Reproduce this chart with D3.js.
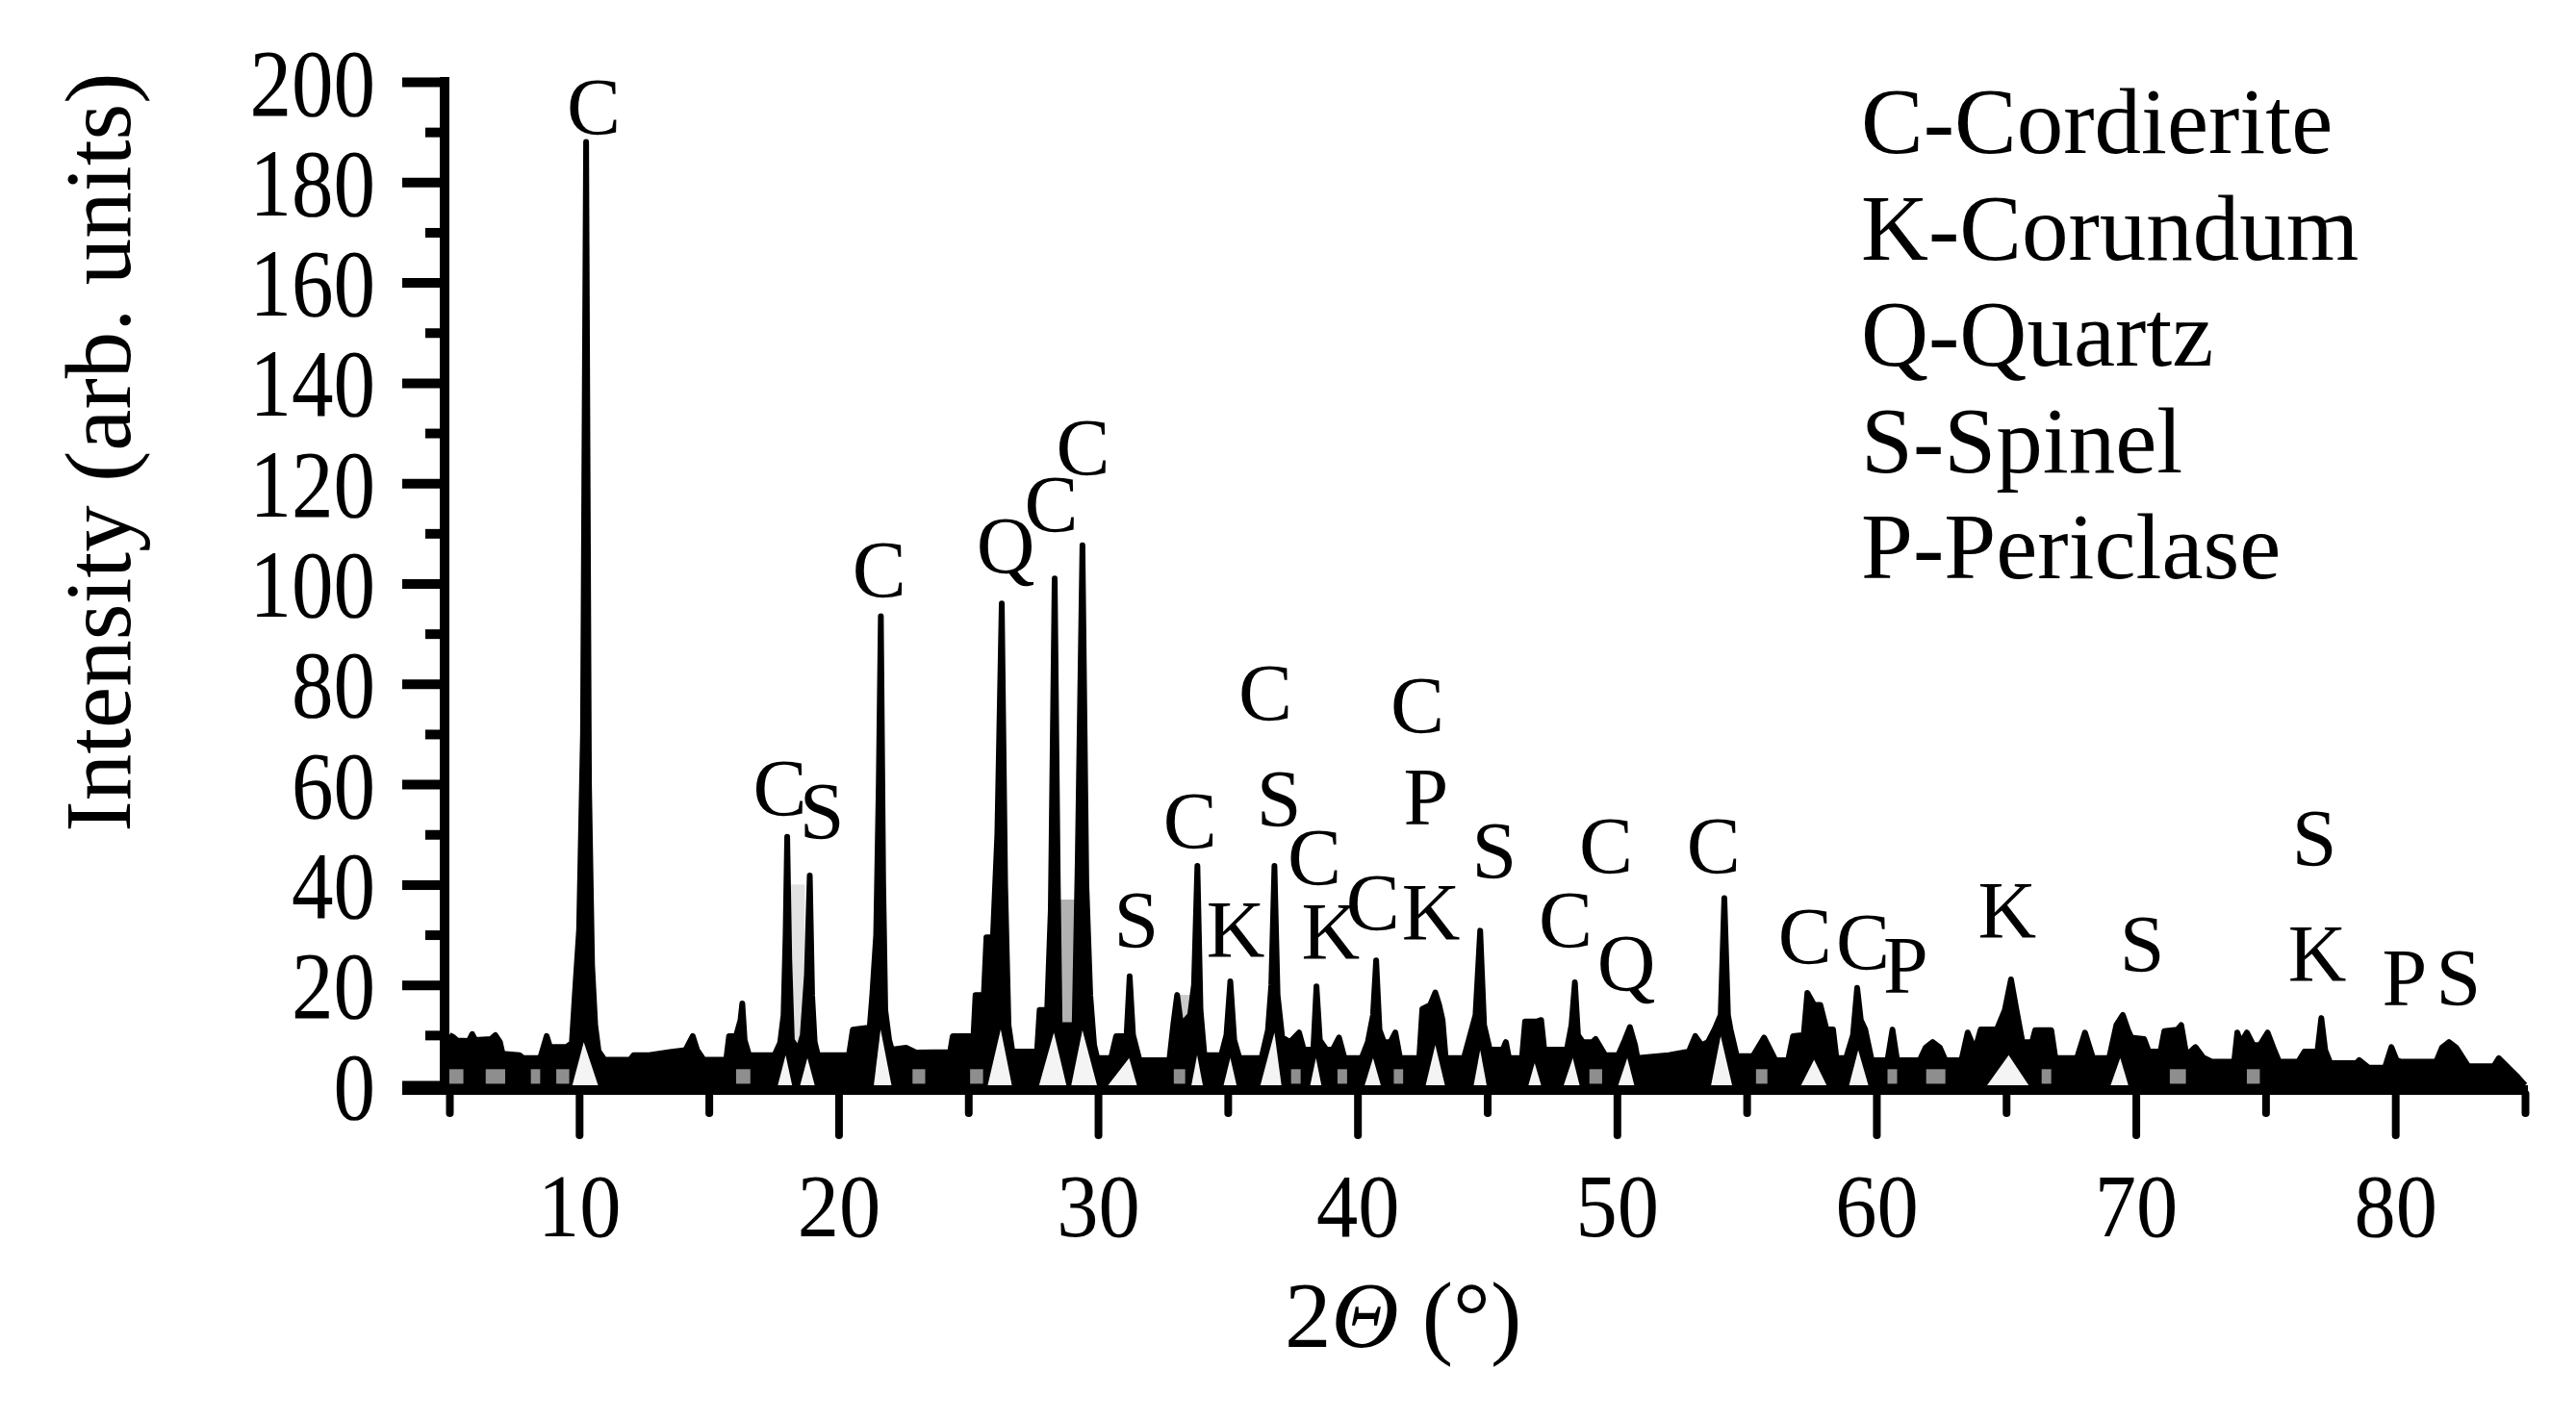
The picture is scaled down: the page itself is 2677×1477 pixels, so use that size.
<!DOCTYPE html>
<html><head><meta charset="utf-8">
<script src="https://cdn.jsdelivr.net/npm/d3@7"></script>
<style>html,body{margin:0;padding:0;background:#fff;} svg{display:block;}</style>
</head><body>
<svg id="chart" width="2677" height="1477"></svg>
<script>
// ---- data (2θ in degrees, intensity in arb. units) ----
const pattern = [
[5.0,10.0],[5.15,9.6],[5.3,8.9],[5.75,8.8],[5.88,10.2],[6.0,9.0],[6.6,9.2],[6.77,10.0],[6.95,8.6],[7.05,6.3],
[7.7,6.0],[7.85,5.4],[8.5,5.4],[8.62,7.5],[8.75,9.8],[8.88,7.6],[9.5,7.6],[9.72,8.4],[9.86,20],[10.0,31],
[10.15,70],[10.27,188],[10.38,60],[10.5,24],[10.62,12],[10.75,6.8],[10.98,5.1],[11.97,5.1],[12.1,6.0],[12.7,6.0],
[13.5,6.6],[14.1,7.0],[14.25,8.5],[14.38,9.8],[14.55,7.0],[14.8,5.1],[15.67,5.1],[15.78,9.8],[16.05,9.8],[16.22,13],
[16.29,16.3],[16.38,9],[16.55,6.0],[17.53,6.0],[17.75,8.5],[17.88,14],[17.96,30],[18.02,49.5],[18.1,25],[18.2,9],
[18.45,7.0],[18.62,10],[18.78,22],[18.89,41.8],[18.98,18],[19.08,8.6],[19.2,6.0],[20.4,6.0],[20.55,11.1],[21.2,11.5],
[21.3,18],[21.45,30],[21.55,60],[21.63,93.5],[21.72,40],[21.8,15],[21.95,9],[22.05,7.1],[22.6,7.5],[23.0,6.5],
[24.3,6.6],[24.4,9.8],[25.2,9.8],[25.28,18],[25.6,18],[25.7,29.5],[25.95,29.5],[26.12,50],[26.29,96],[26.42,40],
[26.55,12],[26.7,6.7],[27.65,6.7],[27.75,15],[28.04,15],[28.18,35],[28.33,101],[28.45,40],[28.52,12],[29.1,12],
[29.22,45],[29.4,107.6],[29.55,40],[29.7,18],[29.85,8],[29.97,5.4],[30.5,5.4],[30.7,9.8],[31.1,9.8],[31.22,21.7],
[31.35,10],[31.6,5.0],[32.75,5.0],[32.9,12],[33.05,18],[33.2,12],[33.55,14],[33.7,20],[33.83,43.7],[33.95,15],
[34.1,6.0],[34.75,6.0],[34.95,10],[35.1,20.7],[35.25,9],[35.45,5.4],[36.3,5.4],[36.55,11],[36.68,20],[36.8,43.7],
[36.92,18],[37.1,9.5],[37.4,8.6],[37.75,10.5],[37.93,7.1],[38.3,7.1],[38.42,19.7],[38.55,9],[38.8,7.1],[39.05,7.1],
[39.29,9.5],[39.5,5.4],[40.16,5.4],[40.4,8.6],[40.6,14],[40.72,24.9],[40.85,11],[41.02,8.6],[41.27,8.6],[41.46,10.5],
[41.64,5.4],[42.38,5.4],[42.5,15.2],[42.8,16],[43.0,18.5],[43.15,16],[43.28,13],[43.4,5.4],[44.1,5.4],[44.3,9.2],
[44.55,14],[44.73,30.8],[44.88,12],[45.1,7.1],[45.6,7.1],[45.72,8.6],[45.84,5.4],[46.34,5.4],[46.46,12.7],[46.9,12.7],
[47.08,13],[47.2,7.1],[48.07,7.1],[48.25,12],[48.38,20.5],[48.5,10],[48.69,8.6],[49.06,8.6],[49.18,9.2],[49.55,6.0],
[50.05,6.0],[50.3,9],[50.5,11.6],[50.7,8],[50.79,5.4],[52.0,6.0],[52.77,6.7],[53.02,9.8],[53.26,8.0],[53.51,8.6],
[53.76,11.1],[54.0,14],[54.14,37.3],[54.28,14],[54.38,11.1],[54.62,5.8],[55.24,5.8],[55.67,9.5],[56.11,5.0],[56.6,5.0],
[56.79,9.8],[57.2,10],[57.34,18.4],[57.6,16],[57.84,16.0],[58.08,11.1],[58.33,11.1],[58.46,5.4],[58.83,5.4],[59.1,10],
[59.26,19.4],[59.4,13],[59.57,11.1],[59.82,5.0],[60.43,5.0],[60.62,11.1],[60.8,5.0],[61.67,5.0],[61.9,7.5],[62.17,8.6],
[62.45,7.5],[62.66,5.0],[63.28,5.0],[63.52,10.5],[63.8,7],[64.02,11.1],[64.64,11.1],[64.95,15],[65.19,21.1],[65.4,15],
[65.63,8.6],[66.0,8.6],[66.12,11],[66.74,11],[66.9,5.4],[67.73,5.4],[68.04,10.5],[68.35,5.4],[68.97,5.4],[69.25,12],
[69.5,14],[69.7,11],[69.83,9.5],[70.32,9.2],[70.5,6.7],[70.95,6.7],[71.1,10.8],[71.6,11.1],[71.75,12],[71.95,6.0],
[72.3,7.6],[72.6,5.5],[72.92,4.7],[73.79,4.7],[73.91,10.5],[74.05,8.5],[74.28,10.5],[74.53,8.0],[74.78,8.0],[75.08,10.5],
[75.3,7.5],[75.52,4.7],[76.26,4.7],[76.5,6.7],[77.0,6.7],[77.15,13.4],[77.3,7],[77.5,4.4],[78.5,4.4],[78.61,5.0],
[78.98,3.5],[79.6,3.5],[79.85,7.6],[80.05,5.0],[80.22,4.7],[81.58,4.7],[81.8,7.5],[82.07,8.6],[82.35,7.5],[82.81,3.8],
[83.8,3.8],[83.99,5.4],[84.67,1.9],[85.0,0]
];

// light gaps under peaks: [left 2θ, apex 2θ, right 2θ, apex intensity]
const gaps = [
[9.74,10.18,10.73,8.6],[17.66,17.96,18.21,6],[18.52,18.8,19.08,5.4],[21.36,21.62,22.04,11.1],
[25.75,26.25,26.68,11.1],[27.73,28.3,28.78,10.5],[28.97,29.4,29.96,11],[30.39,31.2,31.5,5.4],
[33.6,33.82,34.04,6],[34.84,35.1,35.34,5.4],[36.26,36.8,37.07,10.5],[38.18,38.4,38.61,5.4],
[40.28,40.6,40.9,5.4],[42.63,43.0,43.37,8],[44.48,44.73,44.98,7],[46.59,46.83,47.08,4.4],
[47.95,48.3,48.56,5.4],[50.05,50.4,50.67,5.4],[53.63,54.0,54.44,9.8],[57.1,57.6,58.08,5.1],
[58.95,59.3,59.69,7],[64.27,65.1,65.87,6],[69.03,69.4,69.71,5.4]
];

// grey specks near the baseline: [from 2θ, to 2θ, top intensity]
const specks = [
[5.0,5.54,3.2],[6.4,7.15,3.2],[8.14,8.5,3.2],[9.12,9.62,3.2],[16.05,16.6,3.2],[22.85,23.34,3.2],
[25.07,25.57,3.2],[32.92,33.36,3.2],[37.44,37.81,3.2],[39.23,39.6,3.2],[41.4,41.76,3.2],[48.94,49.43,3.2],
[55.36,55.8,3.2],[60.43,60.8,3.2],[61.92,62.66,3.2],[66.37,66.74,3.2],[71.31,71.93,3.2],[74.28,74.78,3.2]
];

// grey shaded bands between close peaks: [from 2θ, to 2θ, top intensity]
const shades = [[18.12,18.7,40],[28.45,29.15,37],[32.95,33.7,18]];

// phase labels: [letter, 2θ (centre), intensity (baseline)]
const peakLabels = [
["C",10.56,189.5],["C",17.74,53.7],["S",19.36,49.1],["C",21.57,97.2],["Q",26.44,102],
["C",28.2,110.3],["C",29.42,121.6],["S",31.48,27.4],["C",33.55,47.2],["K",35.3,25.5],
["C",36.45,72.7],["S",36.97,51.6],["C",38.34,39.9],["K",38.97,25.1],["C",40.6,30.9],
["K",42.83,29],["C",42.31,70.2],["P",42.64,52],["S",45.27,41.2],["C",48.02,27.4],
["C",49.58,42.2],["Q",50.36,18.8],["C",53.73,42.2],["C",57.25,24.2],["C",59.48,23],
["P",61.13,18.4],["K",65.04,29.3],["S",70.24,22.6],["S",76.88,43.7],["K",76.99,20.7],
["P",80.36,15.9],["S",82.44,15.9]
];

const legendItems = ["C-Cordierite","K-Corundum","Q-Quartz","S-Spinel","P-Periclase"];
const xMajorTicks = [10,20,30,40,50,60,70,80];
const xMinorTicks = [5,15,25,35,45,55,65,75,85];
const yMajorTicks = [0,20,40,60,80,100,120,140,160,180,200];
const yMinorTicks = [10,30,50,70,90,110,130,150,170,190];
const xTitle = ["2","Θ"," (°)"];
const yTitle = "Intensity (arb. units)";

// ---- drawing ----
const svg = d3.select("#chart");
const serif = "'Liberation Serif','Times New Roman',Times,serif";
const x = d3.scaleLinear().domain([5,85]).range([467,2624]);
const y = d3.scaleLinear().domain([0,200]).range([1128,85]);
const shadeFill = ["#e2e2e2","#b2b2b2","#cccccc"];
const axisX = x(5) - 5;

svg.append("rect").attr("width",2677).attr("height",1477).attr("fill","#fff");

svg.append("g").selectAll("rect").data(shades).join("rect")
  .attr("x", d => x(d[0])).attr("width", d => x(d[1]) - x(d[0]))
  .attr("y", d => y(d[2])).attr("height", d => y(0) - y(d[2]))
  .attr("fill", (d,i) => shadeFill[i]);

const area = d3.area().x(d => x(d[0])).y0(y(0)).y1(d => y(d[1]));
svg.append("path").datum(pattern).attr("d", area).attr("fill", "#000");
const line = d3.line().x(d => x(d[0])).y(d => y(d[1]));
svg.append("path").datum(pattern).attr("d", line).attr("fill", "none")
  .attr("stroke", "#000").attr("stroke-width", 6).attr("stroke-linejoin", "round");

svg.append("g").selectAll("path").data(gaps).join("path")
  .attr("d", d => d3.line()([[x(d[0]), y(0)], [x(d[1]), y(d[3])], [x(d[2]), y(0)]]) + "Z")
  .attr("fill", "#f4f4f4");

svg.append("g").selectAll("rect").data(specks).join("rect")
  .attr("x", d => x(d[0])).attr("width", d => x(d[1]) - x(d[0]))
  .attr("y", d => y(d[2])).attr("height", d => y(0.3) - y(d[2]))
  .attr("fill", "#8e8e8e");

// axis lines
svg.append("line").attr("x1", axisX).attr("x2", axisX).attr("y1", y(200) - 5).attr("y2", y(0) + 10)
  .attr("stroke", "#000").attr("stroke-width", 10);
svg.append("line").attr("x1", axisX - 44).attr("x2", x(85) + 3).attr("y1", y(0) + 5).attr("y2", y(0) + 5)
  .attr("stroke", "#000").attr("stroke-width", 10);

// y axis ticks
const ySx = 0.87;
const yMajor = svg.append("g").attr("transform", `translate(${axisX},0)`)
  .call(d3.axisLeft(y).tickValues(yMajorTicks).tickSize(44).tickPadding(28).tickFormat(d3.format("d")));
const yMinor = svg.append("g").attr("transform", `translate(${axisX},0)`)
  .call(d3.axisLeft(y).tickValues(yMinorTicks).tickSize(20).tickFormat(""));
[yMajor, yMinor].forEach(g => {
  g.select(".domain").remove();
  g.selectAll(".tick line").attr("stroke", "#000").attr("stroke-width", 10);
});
yMajor.attr("font-family", serif).attr("font-size", 100);
yMajor.selectAll(".tick text").attr("fill", "#000")
  .attr("x", -72 / ySx).attr("dy", "0.34em").attr("transform", `scale(${ySx},1)`);

// x axis ticks
const xSx = 0.93;
const xBase = y(0) + 9;
const xMajor = svg.append("g").attr("transform", `translate(0,${xBase})`)
  .call(d3.axisBottom(x).tickValues(xMajorTicks).tickSize(43).tickFormat(d3.format("d")));
const xMinor = svg.append("g").attr("transform", `translate(0,${xBase})`)
  .call(d3.axisBottom(x).tickValues(xMinorTicks).tickSize(20).tickFormat(""));
[xMajor, xMinor].forEach(g => {
  g.select(".domain").remove();
  g.selectAll(".tick line").attr("stroke", "#000").attr("stroke-width", 8).attr("stroke-linecap", "round");
});
xMajor.attr("font-family", serif).attr("font-size", 93);
xMajor.selectAll(".tick text").attr("fill", "#000")
  .attr("y", 148).attr("dy", 0).attr("transform", `scale(${xSx},1)`);

// peak labels
svg.append("g").attr("font-family", serif).attr("font-size", 84).attr("text-anchor", "middle")
  .selectAll("text").data(peakLabels).join("text")
  .attr("x", d => x(d[1])).attr("y", d => y(d[2])).text(d => d[0]);

// legend
svg.append("g").attr("font-family", serif).attr("font-size", 97)
  .selectAll("text").data(legendItems).join("text")
  .attr("x", 1934).attr("y", (d,i) => 159 + i * 110.5).text(d => d);

// axis titles
svg.append("text").attr("transform", "translate(135,470) rotate(-90)")
  .attr("text-anchor", "middle").attr("font-family", serif).attr("font-size", 97).text(yTitle);
const xt = svg.append("text").attr("x", 1335).attr("y", 1400)
  .attr("font-family", serif).attr("font-size", 97);
xt.selectAll("tspan").data(xTitle).join("tspan")
  .attr("font-style", (d,i) => i === 1 ? "italic" : "normal").text(d => d);
</script>
</body></html>
